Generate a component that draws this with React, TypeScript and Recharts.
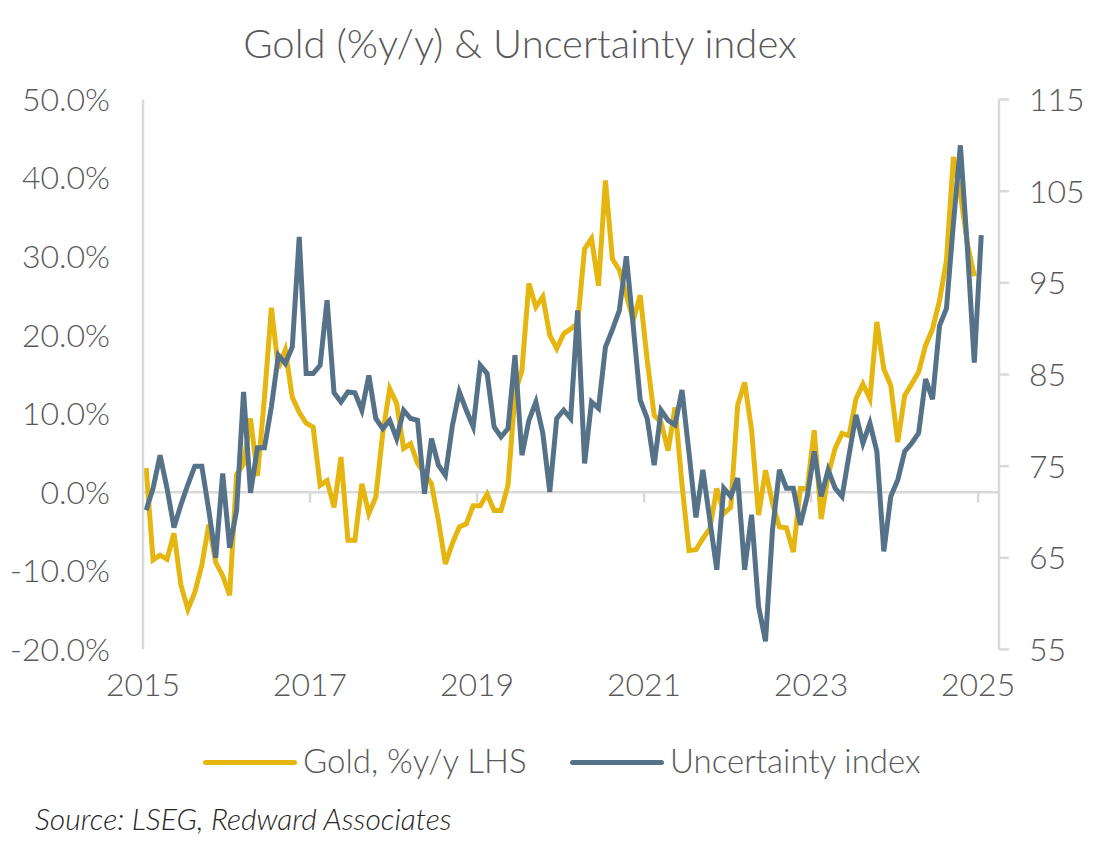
import { LineChart, Line, XAxis, YAxis, ReferenceLine } from 'recharts';

// Monthly, Jan 2015 onwards
const goldYoY = [
  3.1, -8.6, -8.0, -8.5, -5.2, -11.8, -14.9, -12.7, -9.3, -4.1, -8.9, -10.6,
  -13.1, 2.3, 3.6, 9.4, 2.1, 12.0, 23.5, 15.8, 18.1, 12.1, 10.2, 8.8,
  8.3, 0.9, 1.5, -1.9, 4.5, -6.1, -6.1, 1.1, -2.7, -0.6, 7.5, 13.2,
  11.3, 5.6, 6.2, 3.7, 2.4, 1.1, -3.6, -9.1, -6.5, -4.4, -4.0, -1.7,
  -1.7, -0.2, -2.3, -2.3, 0.9, 12.6, 15.5, 26.6, 23.6, 24.9, 20.0, 18.3,
  20.2, 20.8, 21.5, 31.0, 32.3, 26.3, 39.7, 29.7, 28.3, 25.1, 21.9, 25.1,
  16.8, 9.8, 8.9, 5.3, 10.8, 1.0, -7.4, -7.3, -5.9, -4.6, 0.5, -2.7,
  -1.9, 11.1, 14.0, 7.9, -2.9, 2.8, -1.4, -4.4, -4.5, -7.6, 0.5, 0.5,
  7.9, -3.4, 2.2, 5.6, 7.5, 7.2, 11.9, 13.8, 11.9, 21.7, 15.7, 13.6,
  6.4, 12.3, 13.8, 15.3, 18.7, 20.8, 24.4, 29.5, 42.7, 38.0, 31.7, 27.5,
];

const uncertainty = [
  70.2, 72.6, 76.2, 72.6, 68.3, 70.8, 73.0, 75.0, 75.0, 70.2, 65.0, 74.2,
  66.1, 70.2, 83.1, 72.1, 77.0, 77.0, 81.5, 87.1, 86.2, 88.0, 100.0, 85.1,
  85.1, 86.0, 93.1, 83.0, 82.0, 83.1, 83.0, 81.1, 84.9, 80.2, 79.1, 80.0,
  78.0, 81.1, 80.2, 80.0, 72.0, 78.0, 75.1, 74.0, 79.4, 83.1, 81.1, 79.3,
  86.0, 85.1, 79.3, 78.2, 79.1, 87.1, 76.2, 80.0, 82.0, 78.6, 72.2, 80.2,
  81.1, 80.2, 92.0, 75.3, 82.0, 81.3, 88.0, 89.9, 92.0, 97.9, 90.2, 82.2,
  80.2, 75.1, 81.1, 80.0, 79.5, 83.3, 76.5, 69.4, 74.6, 69.1, 63.7, 72.6,
  71.7, 73.7, 63.7, 69.7, 59.7, 55.9, 68.0, 74.6, 72.6, 72.6, 68.6, 71.7,
  76.6, 71.7, 74.6, 72.6, 71.7, 76.2, 80.6, 77.5, 79.7, 76.6, 65.7, 71.7,
  73.5, 76.6, 77.5, 78.6, 84.5, 82.3, 90.3, 92.2, 101.5, 110.0, 98.9, 86.3,
  100.2,
];

const yearTicks = [2015, 2017, 2019, 2021, 2023, 2025];
const goldTicks = [-20, -10, 0, 10, 20, 30, 40, 50];
const uncTicks = [55, 65, 75, 85, 95, 105, 115];

const GOLD = '#E5B60F';
const BLUE = '#557288';
const GRID = '#D9D9D9';
const TEXT = '#595959';
const FONT = 'Lato, "Open Sans", sans-serif';

const data = uncertainty.map((u, i) => ({
  t: 2015 + (i + 0.45) / 12,
  gold: i < goldYoY.length ? goldYoY[i] : null,
  unc: u,
}));

const tickStyle = { fill: TEXT, fontSize: 32, fontFamily: FONT, fontWeight: 300 };

export default function App() {
  return (
    <div style={{ position: 'absolute', left: 0, top: 0, width: 1105, height: 845, background: '#fff', fontFamily: FONT }}>
      <div style={{ position: 'absolute', left: 0, top: 19, width: 1040, textAlign: 'center', fontSize: 40, fontWeight: 300, color: TEXT }}>
        Gold (%y/y) &amp; Uncertainty index
      </div>

      <LineChart
        width={1105}
        height={845}
        data={data}
        margin={{ top: 99.5, right: 0, bottom: 135.5, left: 8 }}
      >
        <XAxis
          dataKey="t"
          type="number"
          domain={[2015, 2025.25]}
          ticks={yearTicks}
          tickFormatter={(v) => String(Math.round(v))}
          axisLine={false}
          tickLine={false}
          tickSize={0}
          tickMargin={24}
          height={60}
          tick={tickStyle}
        />
        <YAxis
          yAxisId="left"
          domain={[-20, 50]}
          ticks={goldTicks}
          tickFormatter={(v) => `${v.toFixed(1)}%`}
          width={135}
          axisLine={{ stroke: GRID, strokeWidth: 2.5 }}
          tickLine={false}
          tickSize={0}
          tickMargin={33}
          tick={tickStyle}
        />
        <YAxis
          yAxisId="right"
          orientation="right"
          domain={[55, 115]}
          ticks={uncTicks}
          width={106}
          axisLine={{ stroke: GRID, strokeWidth: 2.5 }}
          tickLine={{ stroke: GRID, strokeWidth: 2.5 }}
          tickSize={10}
          tickMargin={20}
          tick={tickStyle}
        />
        <ReferenceLine yAxisId="left" y={0} stroke={GRID} strokeWidth={2.5} />
        {yearTicks.slice(1).map((yr) => (
          <ReferenceLine
            key={yr}
            yAxisId="left"
            segment={[{ x: yr, y: 0 }, { x: yr, y: -1.3 }]}
            stroke={GRID}
            strokeWidth={2.5}
          />
        ))}
        <Line
          yAxisId="left"
          dataKey="gold"
          stroke={GOLD}
          strokeWidth={5}
          dot={false}
          type="linear"
          isAnimationActive={false}
        />
        <Line
          yAxisId="right"
          dataKey="unc"
          stroke={BLUE}
          strokeWidth={5}
          dot={false}
          type="linear"
          isAnimationActive={false}
        />
      </LineChart>

      <div style={{ position: 'absolute', left: 203, top: 760, width: 94, height: 5, borderRadius: 3, background: GOLD }} />
      <div style={{ position: 'absolute', left: 303, top: 740, fontSize: 33, fontWeight: 300, color: TEXT, whiteSpace: 'nowrap' }}>
        Gold, %y/y LHS
      </div>
      <div style={{ position: 'absolute', left: 570, top: 760, width: 94, height: 5, borderRadius: 3, background: BLUE }} />
      <div style={{ position: 'absolute', left: 670, top: 740, fontSize: 33, fontWeight: 300, color: TEXT, whiteSpace: 'nowrap' }}>
        Uncertainty index
      </div>

      <div style={{ position: 'absolute', left: 35, top: 800, fontSize: 30, fontStyle: 'italic', fontWeight: 300, color: '#262626', whiteSpace: 'nowrap' }}>
        Source: LSEG, Redward Associates
      </div>
    </div>
  );
}
